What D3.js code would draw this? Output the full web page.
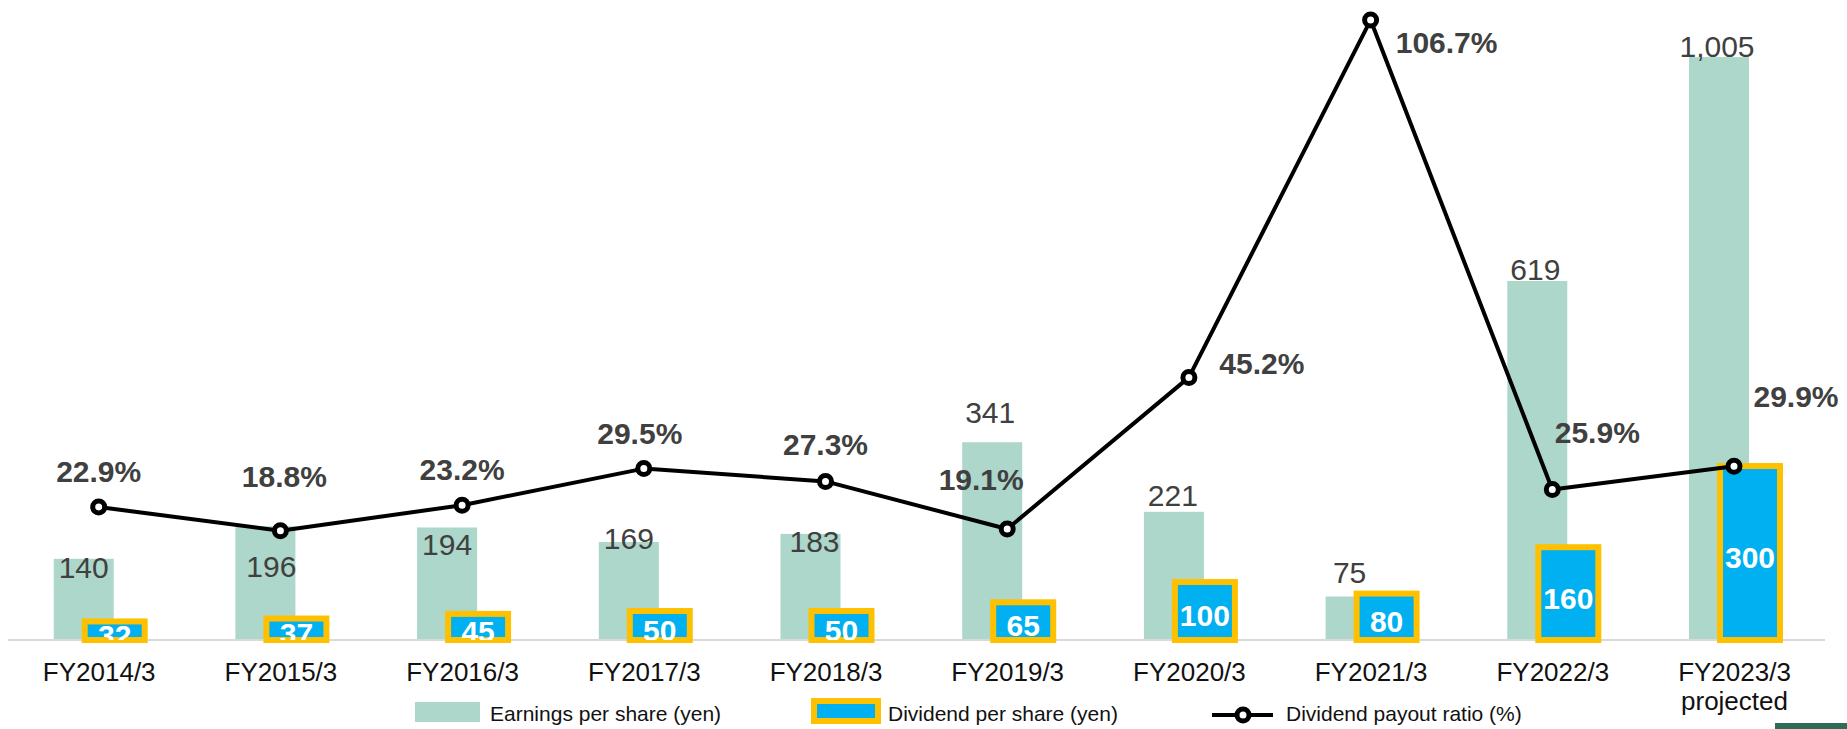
<!DOCTYPE html>
<html>
<head>
<meta charset="utf-8">
<script src="https://cdn.jsdelivr.net/npm/d3@7"></script>
<style>
  html, body { margin: 0; padding: 0; background: #fff; }
  svg { display: block; font-family: "Liberation Sans", Arial, sans-serif; }
</style>
</head>
<body>
<div id="chart"></div>
<script>

// ---------- data ----------
var categories = ['FY2014/3','FY2015/3','FY2016/3','FY2017/3','FY2018/3',
                  'FY2019/3','FY2020/3','FY2021/3','FY2022/3','FY2023/3\nprojected'];
var eps      = [140, 196, 194, 169, 183, 341, 221, 75, 619, 1005];   // Earnings per share (yen)
var dividend = [32, 37, 45, 50, 50, 65, 100, 80, 160, 300];           // Dividend per share (yen)
var payout   = [22.9, 18.8, 23.2, 29.5, 27.3, 19.1, 45.2, 106.7, 25.9, 29.9]; // %

// label nudges (layout only) to follow where the original put them
var epsLabelDx = [0, 6, 0, 0, 4, -2, -1, -6, -2, -2];
var epsLabelDy = [19, 51, 28, 7, 18, -19, -6, -14, -1, 0];
var payLabelDx = [0, 4, 0, -4, 0, -26, 73, 76, 45, 62];
var payLabelDy = [-25, -44, -25, -25, -26, -39, -3, 33, -47, -59];

// ---------- svg ----------
var W = 1847, H = 729, base = 640;
var colEps = '#acd7ca', colDiv = '#00b0f0', colGold = '#ffc000', colLab = '#404040';

var svg = d3.select('#chart').append('svg')
	.attr('width', W).attr('height', H);

// scales
var x = d3.scalePoint().domain(categories).range([98.7, 1734]);
var yBar = d3.scaleLinear().domain([0, 1100]).range([base, base - 1100 * 0.58]);
var yPct = d3.scaleLinear().domain([0, 110]).range([base, base - 110 * 5.81]);

var barW = 60, off = 15;

// clip for dividend labels (they get cut at the baseline)
svg.append('defs').append('clipPath').attr('id', 'plotClip')
	.append('rect').attr('x', 0).attr('y', 0).attr('width', W).attr('height', base);

// EPS bars
svg.selectAll('.eps').data(eps).enter().append('rect')
	.attr('class', 'eps')
	.attr('x', function(d,i){ return x(categories[i]) - off - barW/2; })
	.attr('y', function(d){ return yBar(d); })
	.attr('width', barW)
	.attr('height', function(d){ return base - yBar(d); })
	.attr('fill', colEps);

// EPS labels
svg.selectAll('.epsLab').data(eps).enter().append('text')
	.attr('class', 'epsLab')
	.attr('x', function(d,i){ return x(categories[i]) - off + epsLabelDx[i]; })
	.attr('y', function(d,i){ return yBar(d) + epsLabelDy[i]; })
	.attr('text-anchor', 'middle')
	.attr('font-size', 30)
	.attr('fill', colLab)
	.text(function(d){ return d3.format(',')(d); });

// baseline
svg.append('line')
	.attr('x1', 8).attr('x2', 1825)
	.attr('y1', base).attr('y2', base)
	.attr('stroke', '#d9d9d9').attr('stroke-width', 2);

// dividend bars
svg.selectAll('.div').data(dividend).enter().append('rect')
	.attr('class', 'div')
	.attr('x', function(d,i){ return x(categories[i]) + off + 1 - barW/2; })
	.attr('y', function(d){ return yBar(d); })
	.attr('width', barW)
	.attr('height', function(d){ return base - yBar(d); })
	.attr('fill', colDiv)
	.attr('stroke', colGold)
	.attr('stroke-width', 6);

// dividend labels
svg.append('g').attr('clip-path', 'url(#plotClip)')
	.selectAll('text').data(dividend).enter().append('text')
	.attr('x', function(d,i){ return x(categories[i]) + off + 1; })
	.attr('y', function(d){ return (yBar(d) + base) / 2 + 15; })
	.attr('text-anchor', 'middle')
	.attr('font-size', 30)
	.attr('font-weight', 'bold')
	.attr('fill', '#fff')
	.text(function(d){ return d; });

// payout ratio line
var line = d3.line()
	.x(function(d,i){ return x(categories[i]); })
	.y(function(d){ return yPct(d); });

svg.append('path').datum(payout)
	.attr('d', line)
	.attr('fill', 'none')
	.attr('stroke', '#000')
	.attr('stroke-width', 4)
	.attr('stroke-linejoin', 'round');

svg.selectAll('.pt').data(payout).enter().append('circle')
	.attr('class', 'pt')
	.attr('cx', function(d,i){ return x(categories[i]); })
	.attr('cy', function(d){ return yPct(d); })
	.attr('r', 6)
	.attr('fill', '#fff')
	.attr('stroke', '#000')
	.attr('stroke-width', 5);

svg.selectAll('.payLab').data(payout).enter().append('text')
	.attr('class', 'payLab')
	.attr('x', function(d,i){ return x(categories[i]) + payLabelDx[i]; })
	.attr('y', function(d,i){ return yPct(d) + payLabelDy[i]; })
	.attr('text-anchor', 'middle')
	.attr('font-size', 30)
	.attr('font-weight', 'bold')
	.attr('fill', colLab)
	.text(function(d){ return d.toFixed(1) + '%'; });

// x axis labels
var xAxis = d3.axisBottom(x).tickSize(0).tickPadding(0);
var gx = svg.append('g').attr('transform', 'translate(0,' + base + ')').call(xAxis);
gx.select('.domain').remove();
gx.selectAll('text')
	.attr('font-size', 26)
	.attr('font-family', '"Liberation Sans", Arial, sans-serif')
	.attr('fill', '#111')
	.attr('y', 41).attr('dy', 0)
	.each(function(d){
		var parts = d.split('\n'), t = d3.select(this);
		t.text(null);
		parts.forEach(function(p, k){
			t.append('tspan').attr('x', 0).attr('dy', k ? 29 : 0).text(p);
		});
	});

// ---------- legend ----------
var lg = svg.append('g').attr('font-size', 21).attr('fill', '#111');

lg.append('rect').attr('x', 415).attr('y', 702).attr('width', 65).attr('height', 20).attr('fill', colEps);
lg.append('text').attr('x', 490).attr('y', 721).text('Earnings per share (yen)');

lg.append('rect').attr('x', 814).attr('y', 701).attr('width', 64).attr('height', 20)
	.attr('fill', colDiv).attr('stroke', colGold).attr('stroke-width', 6);
lg.append('text').attr('x', 888).attr('y', 721).text('Dividend per share (yen)');

lg.append('line').attr('x1', 1212).attr('x2', 1273).attr('y1', 715).attr('y2', 715)
	.attr('stroke', '#000').attr('stroke-width', 4);
lg.append('circle').attr('cx', 1243).attr('cy', 715).attr('r', 6)
	.attr('fill', '#fff').attr('stroke', '#000').attr('stroke-width', 5);
lg.append('text').attr('x', 1286).attr('y', 721).text('Dividend payout ratio (%)');

// little dark strip bottom right
svg.append('rect').attr('x', 1775).attr('y', 723).attr('width', 72).attr('height', 6).attr('fill', '#2f6b57');

</script>
</body>
</html>
